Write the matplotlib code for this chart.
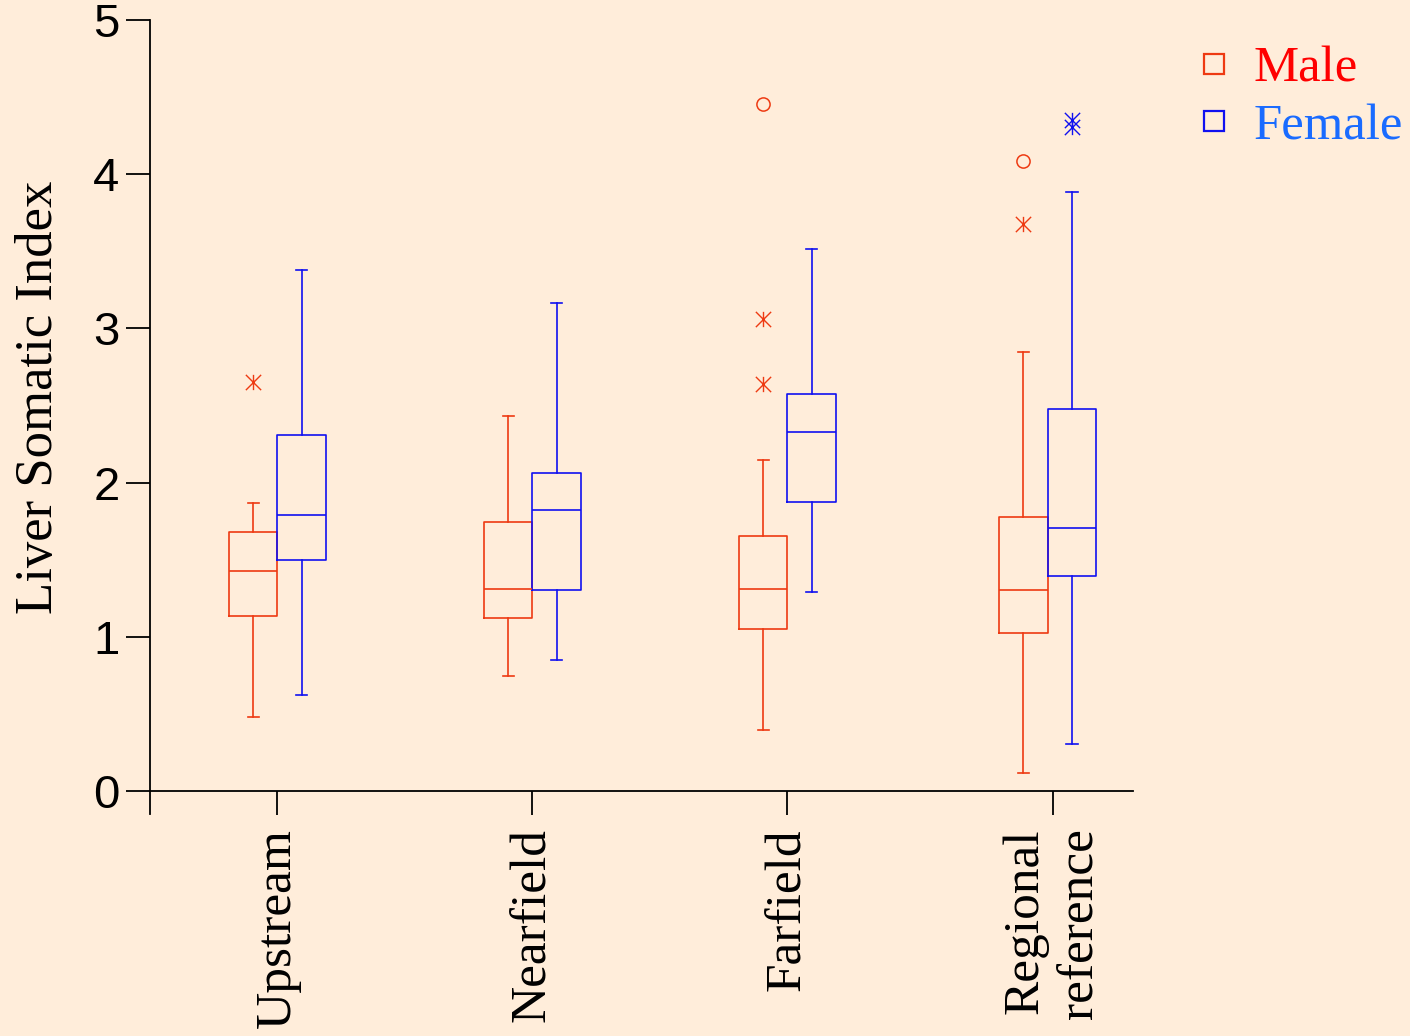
import matplotlib
matplotlib.use('Agg')
import matplotlib.pyplot as plt
from matplotlib.lines import Line2D
from matplotlib.path import Path

# data (Liver Somatic Index)
sites = ['Upstream', 'Nearfield', 'Farfield', 'Regional\nreference']

male_whislo = [0.48, 0.744, 0.396, 0.117]
male_q1 = [1.133, 1.12, 1.051, 1.025]
male_med = [1.427, 1.31, 1.31, 1.304]
male_q3 = [1.68, 1.744, 1.654, 1.777]
male_whishi = [1.87, 2.43, 2.145, 2.845]

female_whislo = [0.623, 0.85, 1.291, 0.305]
female_q1 = [1.496, 1.305, 1.874, 1.396]
female_med = [1.79, 1.822, 2.328, 1.708]
female_q3 = [2.311, 2.062, 2.577, 2.479]
female_whishi = [3.379, 3.165, 3.513, 3.885]

# outliers: (site index, value)
male_circle_site = [2, 3]
male_circle_val = [4.455, 4.083]
male_star_site = [0, 2, 2, 3]
male_star_val = [2.65, 3.061, 2.639, 3.677]
female_star_site = [3, 3]
female_star_val = [4.351, 4.308]

# layout
pos = [1, 2, 3, 4.02]
tick_pos = [1, 2, 3, 4.04]
off = 0.095
bg = '#FFEDDA'
c_male = '#EE3A12'
c_female = '#1010F0'

# asterisk = X with a vertical bar
star = Path([(0, -1), (0, 1), (-1, -1), (1, 1), (-1, 1), (1, -1)],
            [Path.MOVETO, Path.LINETO, Path.MOVETO, Path.LINETO, Path.MOVETO, Path.LINETO])


def make_stats(lo, q1, med, q3, hi):
    return [dict(whislo=a, q1=b, med=c, q3=d, whishi=e, fliers=[])
            for a, b, c, d, e in zip(lo, q1, med, q3, hi)]


fig = plt.figure(figsize=(14.1, 10.36), dpi=100, facecolor=bg)
ax = fig.add_axes([150 / 1410, 1 - 814 / 1036, 983 / 1410, 794 / 1036])
ax.set_facecolor(bg)

for stats, shift, col in [
        (make_stats(male_whislo, male_q1, male_med, male_q3, male_whishi), -off, c_male),
        (make_stats(female_whislo, female_q1, female_med, female_q3, female_whishi), off, c_female)]:
    lp = dict(color=col, lw=1.2)
    ax.bxp(stats, positions=[p + shift for p in pos], widths=0.19, capwidths=0.045,
           showfliers=False, boxprops=lp, medianprops=lp, whiskerprops=lp, capprops=lp)

ax.plot([pos[i] - off for i in male_circle_site], male_circle_val, ls='', marker='o',
        ms=9.5, mfc='none', mec=c_male, mew=1.1)
ax.plot([pos[i] - off for i in male_star_site], male_star_val, ls='', marker=star,
        ms=11, mec=c_male, mew=1.0)
ax.plot([pos[i] + off for i in female_star_site], female_star_val, ls='', marker=star,
        ms=11, mec=c_female, mew=1.0)

ax.set_xlim(0.5, 4.355)
ax.set_ylim(-0.149, 5)
ax.spines['top'].set_visible(False)
ax.spines['right'].set_visible(False)
ax.spines['bottom'].set_position(('data', 0))
for s in ['left', 'bottom']:
    ax.spines[s].set_linewidth(1.3)

ax.set_yticks([0, 1, 2, 3, 4, 5])
ax.set_yticklabels(['0', '1', '2', '3', '4', '5'], family='Liberation Sans', fontsize=34)
ax.tick_params(axis='y', length=17, width=1.3, pad=5)
ax.set_xticks(tick_pos)
ax.set_xticklabels(sites, rotation=90, family='Liberation Serif', fontsize=37,
                   multialignment='right', linespacing=1.25)
ax.tick_params(axis='x', length=17, width=1.3, pad=10)

fig.text(52 / 1410, 1 - 397 / 1036, 'Liver Somatic Index', rotation=90,
         rotation_mode='anchor', ha='center', va='baseline',
         family='Liberation Serif', fontsize=38)

handles = [Line2D([], [], ls='', marker='s', ms=15, mfc='none', mec=c_male, mew=1.6),
           Line2D([], [], ls='', marker='s', ms=15, mfc='none', mec=c_female, mew=1.6)]
fig.legend(handles, ['Male', 'Female'], loc='upper left',
           bbox_to_anchor=(1194 / 1410, 1 - 46 / 1036), frameon=False,
           prop={'family': 'Liberation Serif', 'size': 36.5},
           labelcolor=['#FF0000', '#1A6BFF'], handlelength=0.8, handletextpad=0.37,
           labelspacing=0.22, borderpad=0, borderaxespad=0)

fig.savefig('out.png', dpi=100, facecolor=bg)
